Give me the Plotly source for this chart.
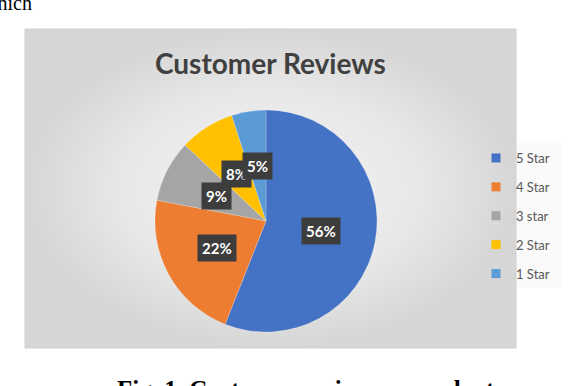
import math
import plotly.graph_objects as go

# ---- data ----
labels = ["5 Star", "4 Star", "3 star", "2 Star", "1 Star"]
values = [56, 22, 9, 8, 5]
colors = ["#4472C4", "#ED7D31", "#A5A5A5", "#FFC000", "#5B9BD5"]
title_text = "Customer Reviews"
caption_text = "Fig. 1. Customer review on product"
top_text = "which"

W, H = 580, 386
# pie geometry (pixels)
cx, cy, R = 266, 221, 111

fig = go.Figure()

# chart panel background with radial gradient
px0, py0, px1, py1 = 25, 29, 516, 348
fig.add_trace(go.Scatter(
    x=[px0, px1, px1, px0, px0], y=[py0, py0, py1, py1, py0],
    mode="lines", fill="toself",
    line=dict(color="#d0d0d0", width=1),
    fillgradient=dict(type="radial",
                      colorscale=[[0, "#f3f3f3"], [0.6, "#e8e8e8"], [1, "#d6d6d6"]]),
    hoverinfo="skip", showlegend=False,
))

# pie
fig.add_trace(go.Pie(
    labels=labels, values=values, sort=False, direction="clockwise", rotation=0,
    marker=dict(colors=colors, line=dict(color="rgba(255,255,255,0.4)", width=0.5)),
    textinfo="none", hoverinfo="label+percent", showlegend=False,
    domain=dict(x=[(cx - R) / W, (cx + R) / W], y=[1 - (cy + R) / H, 1 - (cy - R) / H]),
))

# legend entries
for lab, col in zip(labels, colors):
    fig.add_trace(go.Scatter(
        x=[None], y=[None], mode="markers", name=lab, legendgroup=lab,
        marker=dict(symbol="square", size=9, color=col),
        showlegend=True,
    ))

# data labels (Excel-style dark boxes)
total = sum(values)
cum = 0
annotations = []
for lab, v in zip(labels, values):
    mid = (cum + v / 2) / total * 2 * math.pi
    cum += v
    lx = cx + 0.5 * R * math.sin(mid)
    ly = cy - 0.5 * R * math.cos(mid)
    annotations.append(dict(
        x=lx / W, y=1 - ly / H, xref="paper", yref="paper",
        xanchor="center", yanchor="middle",
        text=f"<b>{round(v / total * 100)}%</b>", showarrow=False,
        font=dict(family="Lato", size=15, color="white"),
        bgcolor="#3d3d3d", borderpad=4,
    ))

annotations.append(dict(
    x=270 / W, y=1 - 63 / H, xref="paper", yref="paper",
    xanchor="center", yanchor="middle",
    text=f"<b>{title_text}</b>", showarrow=False,
    font=dict(family="Lato", size=28, color="#404040"),
))
annotations.append(dict(
    x=34 / W, y=1 - 16 / H, xref="paper", yref="paper", xanchor="right", yanchor="bottom",
    text=top_text, showarrow=False,
    font=dict(family="Liberation Serif", size=20, color="black"),
))
annotations.append(dict(
    x=306 / W, y=1 - 389 / H, xref="paper", yref="paper", xanchor="center", yanchor="middle",
    text=f"<b>{caption_text}</b>", showarrow=False,
    font=dict(family="Liberation Serif", size=25, color="black"),
))

# faint legend box
shapes = [dict(type="rect", xref="paper", yref="paper",
               x0=493 / W, x1=562 / W, y0=1 - 288 / H, y1=1 - 143 / H,
               fillcolor="rgba(245,245,245,0.5)", line=dict(width=0), layer="below")]

fig.update_layout(
    width=W, height=H,
    margin=dict(l=0, r=0, t=0, b=0, autoexpand=False),
    paper_bgcolor="white", plot_bgcolor="rgba(0,0,0,0)",
    xaxis=dict(range=[0, W], visible=False, fixedrange=True),
    yaxis=dict(range=[H, 0], visible=False, fixedrange=True),
    annotations=annotations,
    shapes=shapes,
    showlegend=True,
    legend=dict(
        x=476 / W, y=1 - 143 / H, xanchor="left", yanchor="top",
        bgcolor="rgba(0,0,0,0)", borderwidth=0,
        font=dict(family="Lato", size=13, color="#595959"),
        tracegroupgap=9, itemwidth=30,
    ),
)

fig.write_html("out.html", config={"displayModeBar": False},
               post_script="document.body.style.margin='0';")
